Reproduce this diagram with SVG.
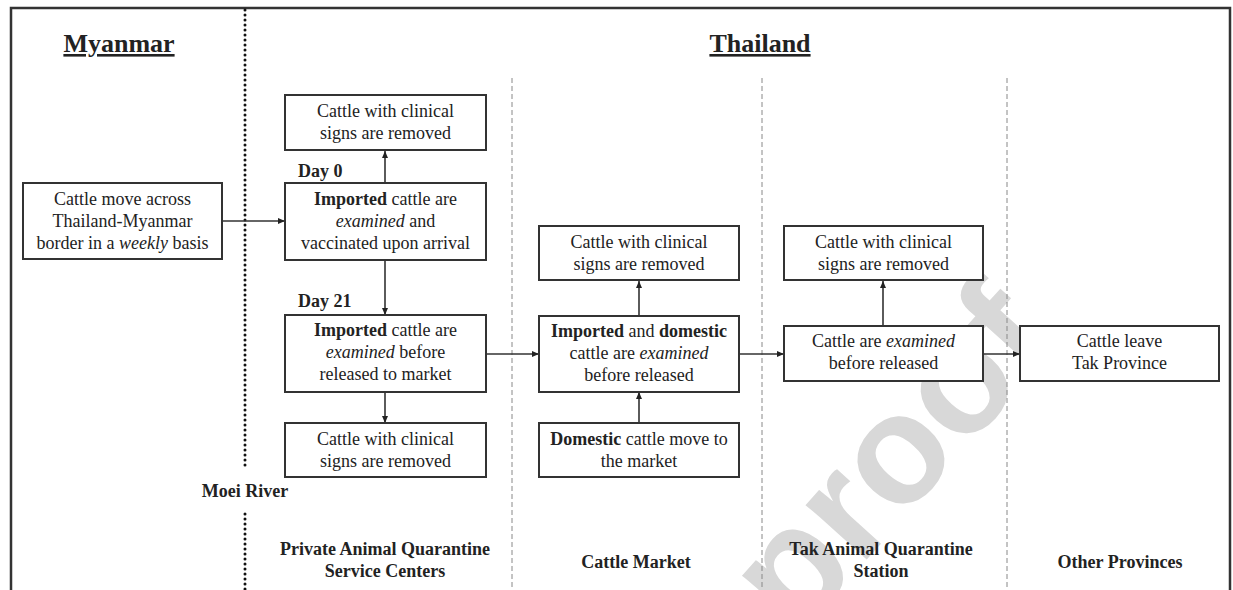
<svg xmlns="http://www.w3.org/2000/svg" width="1233" height="590" viewBox="0 0 1233 590">
<style>
  .t { font-family: "Liberation Serif", "Times New Roman", serif; font-size: 18px; fill: #222; text-anchor: middle; }
  .b { font-weight: bold; }
  .i { font-style: italic; }
  .title { font-family: "Liberation Serif", "Times New Roman", serif; font-size: 26px; font-weight: bold; fill: #222; text-anchor: middle; text-decoration: underline; }
  .box { fill: #fff; stroke: #333; stroke-width: 2; }
  .conn { stroke: #333; stroke-width: 1.6; fill: none; marker-end: url(#ah); }
  .sep { stroke: #888; stroke-width: 1; stroke-dasharray: 5 3; fill: none; }
  .wm { font-family: "Liberation Sans", Arial, sans-serif; font-weight: bold; font-size: 155px; fill: #d8d8d8; }
</style>
<defs>
  <marker id="ah" markerUnits="userSpaceOnUse" markerWidth="8" markerHeight="8" refX="7" refY="4" orient="auto">
    <path d="M0,1 L7,4 L0,7 Z" fill="#222"/>
  </marker>
</defs>
<rect width="1233" height="590" fill="#fff"/>
<!-- watermark -->
<g id="watermark">
  <text class="wm" x="796" y="638" transform="rotate(-48 796 638)">p</text>
  <text class="wm" x="859.4" y="567.6" transform="rotate(-48 859.4 567.6)">roof</text>
</g>

<!-- frame -->
<path d="M11,590 V8 H1230 V590" fill="none" stroke="#333" stroke-width="2.5"/>

<!-- border / separators -->
<g id="separators">
  <line x1="245" y1="10" x2="245" y2="470" stroke="#111" stroke-width="3" stroke-dasharray="0 5" stroke-linecap="round"/>
  <line x1="245" y1="514" x2="245" y2="590" stroke="#111" stroke-width="3" stroke-dasharray="0 5" stroke-linecap="round"/>
  <line class="sep" x1="512" y1="78" x2="512" y2="590"/>
  <line class="sep" x1="762" y1="78" x2="762" y2="590"/>
  <line class="sep" x1="1007" y1="78" x2="1007" y2="590"/>
</g>

<!-- titles and labels -->
<g id="labels">
  <text class="title" x="119" y="52">Myanmar</text>
  <text class="title" x="760" y="52">Thailand</text>
  <text class="t b" x="298" y="177" style="text-anchor:start">Day 0</text>
  <text class="t b" x="298" y="307" style="text-anchor:start">Day 21</text>
  <text class="t b" x="245" y="497">Moei River</text>
  <text class="t b" x="385" y="555">Private Animal Quarantine</text>
  <text class="t b" x="385" y="577">Service Centers</text>
  <text class="t b" x="636" y="568">Cattle Market</text>
  <text class="t b" x="881" y="555">Tak Animal Quarantine</text>
  <text class="t b" x="881" y="577">Station</text>
  <text class="t b" x="1120" y="568">Other Provinces</text>
</g>

<!-- connectors -->
<g id="connectors">
  <line class="conn" x1="222" y1="221" x2="285" y2="221"/>
  <line class="conn" x1="385" y1="183" x2="385" y2="151"/>
  <line class="conn" x1="385" y1="260" x2="385" y2="315"/>
  <line class="conn" x1="385" y1="392" x2="385" y2="423"/>
  <line class="conn" x1="486" y1="354" x2="539" y2="354"/>
  <line class="conn" x1="639" y1="316" x2="639" y2="281"/>
  <line class="conn" x1="639" y1="423" x2="639" y2="392"/>
  <line class="conn" x1="739" y1="354" x2="784" y2="354"/>
  <line class="conn" x1="883" y1="326" x2="883" y2="281"/>
  <line class="conn" x1="983" y1="354" x2="1020" y2="354"/>
</g>

<!-- nodes -->
<g id="node-myanmar">
  <rect class="box" x="23" y="183" width="199" height="76"/>
  <text class="t" x="122.5" y="205">Cattle move across</text>
  <text class="t" x="122.5" y="227">Thailand-Myanmar</text>
  <text class="t" x="122.5" y="249">border in a <tspan class="i">weekly</tspan> basis</text>
</g>
<g id="node-paq-removed-top">
  <rect class="box" x="285" y="95" width="201" height="55"/>
  <text class="t" x="385.5" y="117">Cattle with clinical</text>
  <text class="t" x="385.5" y="139">signs are removed</text>
</g>
<g id="node-paq-day0">
  <rect class="box" x="285" y="183" width="201" height="77"/>
  <text class="t" x="385.5" y="205"><tspan class="b">Imported</tspan> cattle are</text>
  <text class="t" x="385.5" y="227"><tspan class="i">examined</tspan> and</text>
  <text class="t" x="385.5" y="249">vaccinated upon arrival</text>
</g>
<g id="node-paq-day21">
  <rect class="box" x="285" y="315" width="201" height="77"/>
  <text class="t" x="385.5" y="336"><tspan class="b">Imported</tspan> cattle are</text>
  <text class="t" x="385.5" y="358"><tspan class="i">examined</tspan> before</text>
  <text class="t" x="385.5" y="380">released to market</text>
</g>
<g id="node-paq-removed-bottom">
  <rect class="box" x="285" y="423" width="201" height="54"/>
  <text class="t" x="385.5" y="445">Cattle with clinical</text>
  <text class="t" x="385.5" y="467">signs are removed</text>
</g>
<g id="node-market-removed">
  <rect class="box" x="539" y="226" width="200" height="54"/>
  <text class="t" x="639" y="248">Cattle with clinical</text>
  <text class="t" x="639" y="270">signs are removed</text>
</g>
<g id="node-market-exam">
  <rect class="box" x="539" y="316" width="200" height="76"/>
  <text class="t" x="639" y="337"><tspan class="b">Imported</tspan> and <tspan class="b">domestic</tspan></text>
  <text class="t" x="639" y="359">cattle are <tspan class="i">examined</tspan></text>
  <text class="t" x="639" y="381">before released</text>
</g>
<g id="node-market-domestic">
  <rect class="box" x="539" y="423" width="200" height="54"/>
  <text class="t" x="639" y="445"><tspan class="b">Domestic</tspan> cattle move to</text>
  <text class="t" x="639" y="467">the market</text>
</g>
<g id="node-tak-removed">
  <rect class="box" x="784" y="226" width="199" height="54"/>
  <text class="t" x="883.5" y="248">Cattle with clinical</text>
  <text class="t" x="883.5" y="270">signs are removed</text>
</g>
<g id="node-tak-exam">
  <rect class="box" x="784" y="326" width="199" height="55"/>
  <text class="t" x="883.5" y="347">Cattle are <tspan class="i">examined</tspan></text>
  <text class="t" x="883.5" y="369">before released</text>
</g>
<g id="node-other">
  <rect class="box" x="1020" y="326" width="199" height="55"/>
  <text class="t" x="1119.5" y="347">Cattle leave</text>
  <text class="t" x="1119.5" y="369">Tak Province</text>
</g>
</svg>
